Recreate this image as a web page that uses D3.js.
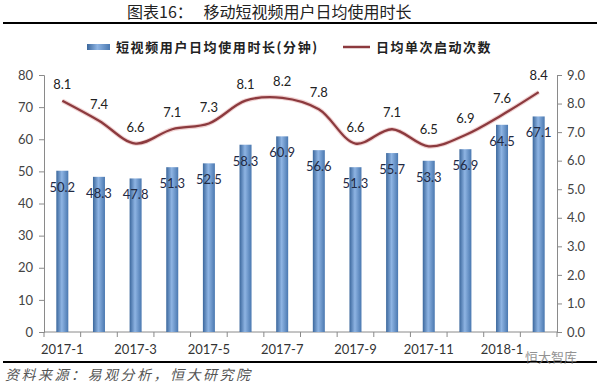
<!DOCTYPE html>
<html><head><meta charset="utf-8">
<script src="https://cdn.jsdelivr.net/npm/d3@7"></script>
<style>body{margin:0;background:#fff}</style>
</head><body>
<svg id="c" width="600" height="386"></svg>
<script>
const categories = ["2017-1","2017-2","2017-3","2017-4","2017-5","2017-6","2017-7","2017-8","2017-9","2017-10","2017-11","2017-12","2018-1","2018-2"];
const durationValues = [50.2,48.3,47.8,51.3,52.5,58.3,60.9,56.6,51.3,55.7,53.3,56.9,64.5,67.1];
const launchValues = [8.1,7.4,6.6,7.1,7.3,8.1,8.2,7.8,6.6,7.1,6.5,6.9,7.6,8.4];
const leftTicks = [0,10,20,30,40,50,60,70,80];
const rightTicks = [0,1,2,3,4,5,6,7,8,9];
const shownLabels = ["2017-1","2017-3","2017-5","2017-7","2017-9","2017-11","2018-1"];

const svg = d3.select("#c");
const font = "Lato, 'Open Sans', 'Noto Sans', sans-serif";
const cjk = "'Noto Sans CJK SC', sans-serif";
const L = 44, R = 557, T = 75, B = 332;

const x = d3.scaleBand().domain(categories).range([L, R]).paddingInner(0).paddingOuter(0);
const yL = d3.scaleLinear().domain([0,80]).range([B,T]);
const yR = d3.scaleLinear().domain([0,9]).range([B,T]);

const defs = svg.append("defs");
const g = defs.append("linearGradient").attr("id","bg").attr("x1","0").attr("x2","1").attr("y1","0").attr("y2","0");
g.append("stop").attr("offset","0%").attr("stop-color","#3b679c");
g.append("stop").attr("offset","45%").attr("stop-color","#8eb4e3");
g.append("stop").attr("offset","100%").attr("stop-color","#4a78b0");

// title
svg.append("text").attr("x",127).attr("y",18).attr("text-anchor","start")
  .attr("font-family",cjk).attr("font-size",16).attr("font-weight",400).attr("fill","#222")
  .text("图表16：\u00a0\u00a0\u00a0移动短视频用户日均使用时长");
svg.append("line").attr("x1",3).attr("x2",597).attr("y1",23).attr("y2",23).attr("stroke","#000").attr("stroke-width",2.2);

// legend
svg.append("rect").attr("x",87).attr("y",44).attr("width",23).attr("height",6).attr("fill","url(#bg)");
svg.append("text").attr("x",116).attr("y",52).attr("font-family",cjk).attr("font-size",13).attr("font-weight",700).attr("fill","#222")
  .attr("letter-spacing",1.6).text("短视频用户日均使用时长(分钟)");
svg.append("line").attr("x1",343).attr("x2",370).attr("y1",47).attr("y2",47).attr("stroke","#8c3a3e").attr("stroke-width",2.5);
svg.append("text").attr("x",376).attr("y",52).attr("font-family",cjk).attr("font-size",13).attr("font-weight",700).attr("fill","#222")
  .attr("letter-spacing",1.5).text("日均单次启动次数");

// axes
const axisColor = "#8a8a8a";
const gl = svg.append("g").attr("transform",`translate(${L},0)`).call(d3.axisLeft(yL).tickValues(leftTicks).tickSize(5).tickPadding(6));
const gr = svg.append("g").attr("transform",`translate(${R},0)`).call(d3.axisRight(yR).tickValues(rightTicks).tickSize(5).tickPadding(5).tickFormat(d3.format(".1f")));
[gl,gr].forEach(a=>{
  a.select(".domain").attr("stroke",axisColor);
  a.selectAll(".tick line").attr("stroke",axisColor);
  a.selectAll("text").attr("font-family",font).attr("font-size",13).attr("fill","#444");
});
// x axis
svg.append("line").attr("x1",L).attr("x2",R).attr("y1",B).attr("y2",B).attr("stroke",axisColor);
const bounds = categories.map(c=>x(c)).concat([R]);
svg.selectAll(".xt").data(bounds).join("line").attr("x1",d=>d).attr("x2",d=>d).attr("y1",B).attr("y2",B+5).attr("stroke",axisColor);
svg.selectAll(".xl").data(shownLabels).join("text").attr("x",d=>x(d)+x.bandwidth()/2).attr("y",B+22)
  .attr("text-anchor","middle").attr("font-family",font).attr("font-size",13).attr("fill","#333").text(d=>d);

// bars
const bw = 12;
svg.selectAll(".bar").data(categories).join("rect")
  .attr("x",d=>x(d)+x.bandwidth()/2-bw/2).attr("width",bw)
  .attr("y",(d,i)=>yL(durationValues[i])).attr("height",(d,i)=>B-yL(durationValues[i]))
  .attr("fill","url(#bg)");
svg.selectAll(".bl").data(categories).join("text")
  .attr("x",d=>x(d)+x.bandwidth()/2).attr("y",(d,i)=>yL(durationValues[i])+21)
  .attr("text-anchor","middle").attr("font-family",font).attr("font-size",13).attr("fill","#1f2a44")
  .text((d,i)=>durationValues[i].toFixed(1));

// line
const line = d3.line().x((d,i)=>x(categories[i])+x.bandwidth()/2).y(d=>yR(d)).curve(d3.curveCatmullRom.alpha(0.5));
svg.append("path").attr("d",line(launchValues)).attr("fill","none").attr("stroke","#e8b4b4").attr("stroke-width",4.5).attr("opacity",0.6);
svg.append("path").attr("d",line(launchValues)).attr("fill","none").attr("stroke","#8c3a3e").attr("stroke-width",2.3);
svg.selectAll(".ll").data(launchValues).join("text")
  .attr("x",(d,i)=>x(categories[i])+x.bandwidth()/2).attr("y",d=>yR(d)-12)
  .attr("text-anchor","middle").attr("font-family",font).attr("font-size",13).attr("fill","#222")
  .text(d=>d.toFixed(1));

// bottom
svg.append("line").attr("x1",3).attr("x2",597).attr("y1",362).attr("y2",362).attr("stroke","#000").attr("stroke-width",2.2);
svg.append("text").attr("x",5).attr("y",380).attr("font-family",cjk).attr("font-size",14).attr("font-style","italic").attr("fill","#555")
  .attr("letter-spacing",2.5).text("资料来源：易观分析，恒大研究院");
svg.append("text").attr("x",525).attr("y",362).attr("font-family",cjk).attr("font-size",13).attr("fill","#777").attr("opacity",0.8)
  .text("恒大智库");
</script>
</body></html>
